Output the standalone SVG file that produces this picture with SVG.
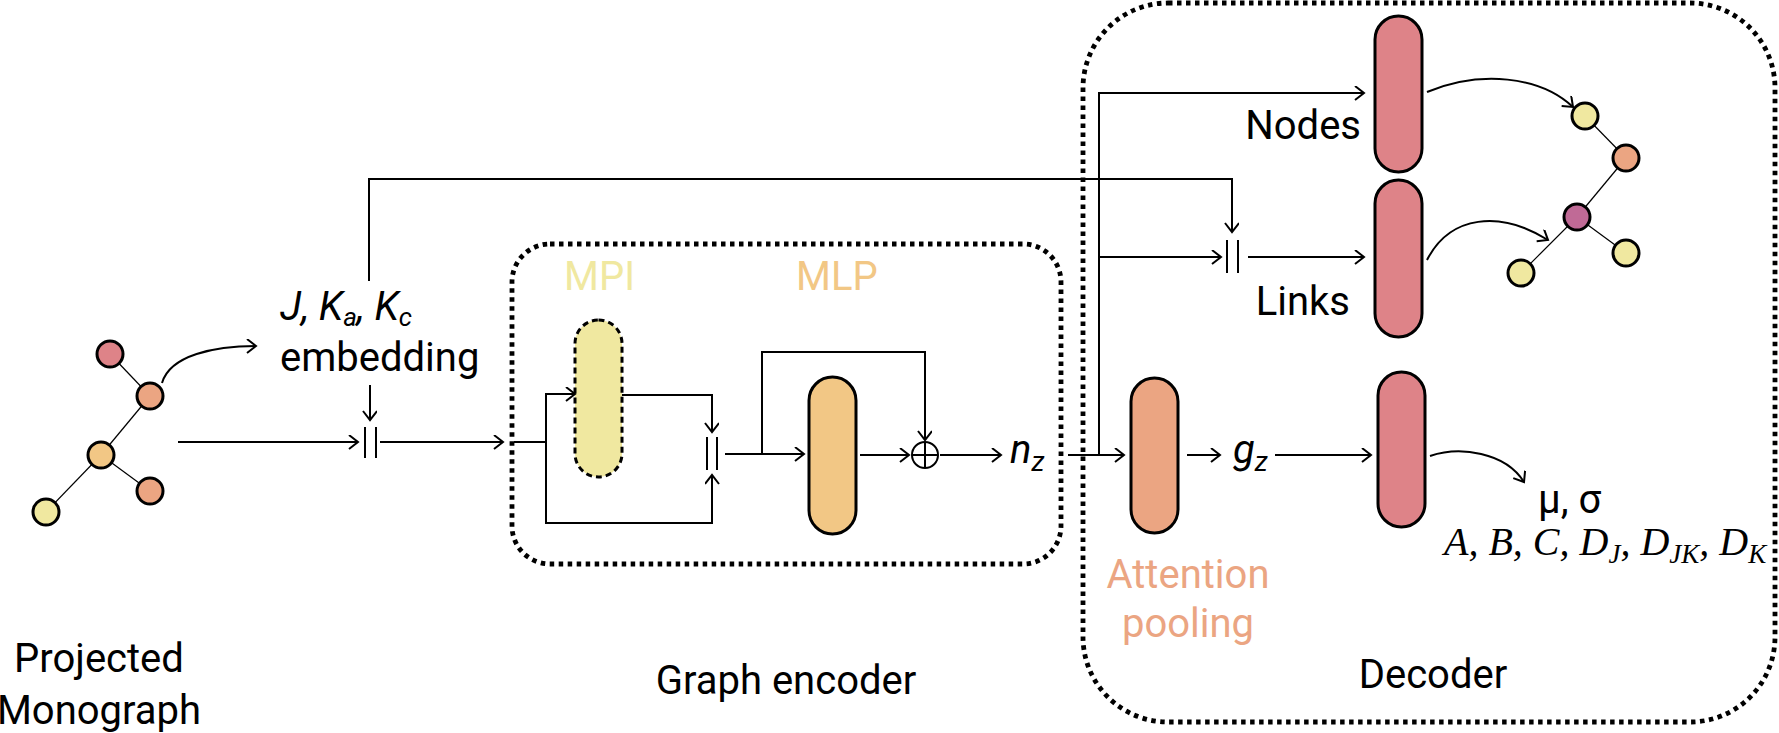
<svg xmlns="http://www.w3.org/2000/svg" width="1779" height="733" viewBox="0 0 1779 733">
<style>
text{font-family:Roboto,"Liberation Sans",sans-serif;font-size:40px;fill:#000}
.it{font-style:italic}
.tm{font-family:"Liberation Serif",serif;font-style:italic;font-size:40px}
.ln{fill:none;stroke:#000;stroke-width:2}
.ar{fill:none;stroke:#000;stroke-width:2;marker-end:url(#ah)}
.box{fill:none;stroke:#000;stroke-width:4.8;stroke-dasharray:4.5 4.5}
.pill{stroke:#000;stroke-width:3}
.nd{stroke:#000;stroke-width:3}
.ed{stroke:#000;stroke-width:1.2}
.red{fill:#DE8388}.sal{fill:#EBA582}.lor{fill:#F2C785}.yel{fill:#F0E8A0}.pur{fill:#C06A96}
</style>
<defs>
<marker id="ah" markerWidth="14" markerHeight="16" refX="10" refY="7" orient="auto" markerUnits="userSpaceOnUse">
<path d="M1,0 L10,7 L1,14" fill="none" stroke="#000" stroke-width="2"/>
</marker>
</defs>

<!-- containers -->
<g id="encoder-box">
<rect class="box" x="512" y="244" width="549" height="320" rx="38" ry="38"/>
<text x="786" y="694" text-anchor="middle">Graph encoder</text>
</g>
<g id="decoder-box">
<rect class="box" x="1083" y="3" width="692" height="719" rx="85" ry="85"/>
<text x="1433" y="688" text-anchor="middle">Decoder</text>
</g>

<!-- input graph -->
<g id="input-graph">
<line class="ed" x1="110" y1="354" x2="150" y2="396"/>
<line class="ed" x1="150" y1="396" x2="101" y2="455"/>
<line class="ed" x1="101" y1="455" x2="46" y2="512"/>
<line class="ed" x1="101" y1="455" x2="150" y2="491"/>
<circle class="nd red" cx="110" cy="354" r="13"/>
<circle class="nd sal" cx="150" cy="396" r="13"/>
<circle class="nd lor" cx="101" cy="455" r="13"/>
<circle class="nd sal" cx="150" cy="491" r="13"/>
<circle class="nd yel" cx="46" cy="512" r="13"/>
<text x="99" y="672" text-anchor="middle">Projected</text>
<text x="99" y="724" text-anchor="middle">Monograph</text>
</g>

<g id="embedding">
<text x="280" y="320" class="it">J, K<tspan font-size="26" dy="6">a</tspan><tspan dy="-6">, K</tspan><tspan font-size="26" dy="6">c</tspan></text>
<text x="280" y="371">embedding</text>
</g>

<g id="concat1">
<line class="ln" x1="365" y1="427" x2="365" y2="458"/>
<line class="ln" x1="376" y1="427" x2="376" y2="458"/>
</g>

<g id="mpi">
<text x="564" y="290" style="fill:#F0E8A0">MPI</text>
<rect class="yel" x="575" y="320" width="47" height="157" rx="23.5" ry="23.5" stroke="#000" stroke-width="3" stroke-dasharray="6 4"/>
</g>

<g id="concat2">
<line class="ln" x1="707" y1="437" x2="707" y2="470"/>
<line class="ln" x1="717" y1="437" x2="717" y2="470"/>
</g>

<g id="mlp">
<text x="796" y="290" style="fill:#F2C785">MLP</text>
<rect class="pill lor" x="809" y="377" width="47" height="157" rx="23.5" ry="23.5"/>
</g>

<g id="sum">
<circle cx="925" cy="455" r="13" fill="#fff" stroke="#000" stroke-width="2"/>
<line class="ln" x1="912" y1="455" x2="938" y2="455"/>
<line class="ln" x1="925" y1="442" x2="925" y2="468"/>
</g>

<g id="nz">
<text x="1010" y="463" class="it">n<tspan font-size="27" dy="8">z</tspan></text>
</g>

<g id="attention">
<rect class="pill sal" x="1131" y="378" width="47" height="155" rx="23.5" ry="23.5"/>
<text x="1188" y="588" text-anchor="middle" style="fill:#EBA582">Attention</text>
<text x="1188" y="637" text-anchor="middle" style="fill:#EBA582">pooling</text>
</g>

<g id="gz">
<text x="1233" y="463" class="it">g<tspan font-size="27" dy="8">z</tspan></text>
</g>

<g id="nodes-mlp">
<rect class="pill red" x="1375" y="16" width="47" height="156" rx="23.5" ry="23.5"/>
<text x="1361" y="139" text-anchor="end">Nodes</text>
</g>

<g id="concat3">
<line class="ln" x1="1227" y1="240" x2="1227" y2="273"/>
<line class="ln" x1="1238" y1="240" x2="1238" y2="273"/>
</g>

<g id="links-mlp">
<rect class="pill red" x="1375" y="180" width="47" height="157" rx="23.5" ry="23.5"/>
<text x="1350" y="315" text-anchor="end">Links</text>
</g>

<g id="param-mlp">
<rect class="pill red" x="1378" y="372" width="47" height="155" rx="23.5" ry="23.5"/>
</g>

<g id="output-graph">
<line class="ed" x1="1585" y1="116" x2="1626" y2="158"/>
<line class="ed" x1="1626" y1="158" x2="1577" y2="217"/>
<line class="ed" x1="1577" y1="217" x2="1626" y2="253"/>
<line class="ed" x1="1577" y1="217" x2="1521" y2="273"/>
<circle class="nd yel" cx="1585" cy="116" r="13"/>
<circle class="nd sal" cx="1626" cy="158" r="13"/>
<circle class="nd pur" cx="1577" cy="217" r="13"/>
<circle class="nd yel" cx="1626" cy="253" r="13"/>
<circle class="nd yel" cx="1521" cy="273" r="13"/>
</g>

<g id="outputs">
<text x="1538" y="513">μ, σ</text>
<text x="1444" y="555" class="tm">A, B, C, D<tspan dy="8" font-size="27">J</tspan><tspan dy="-8">, D</tspan><tspan dy="8" font-size="27">JK</tspan><tspan dy="-8">, D</tspan><tspan dy="8" font-size="27">K</tspan></text>
</g>

<g id="connectors">
<path class="ar" d="M162,383 C170,355 215,346 256,346"/>
<path class="ar" d="M178,442 H358"/>
<path class="ar" d="M370,385 V420"/>
<path class="ar" d="M380,442 H503"/>
<path class="ln" d="M514,442 H546"/>
<path class="ar" d="M546,442 V394 H575"/>
<path class="ar" d="M546,442 V523 H712 V475"/>
<path class="ar" d="M622,395 H712 V432"/>
<path class="ar" d="M725,454 H804"/>
<path class="ar" d="M762,454 V352 H925 V440"/>
<path class="ar" d="M860,455 H909"/>
<path class="ar" d="M940,455 H1001"/>
<path class="ar" d="M369,281 V179 H1232 V232"/>
<path class="ar" d="M1068,455 H1124"/>
<path class="ar" d="M1099,455 V93 H1364"/>
<path class="ar" d="M1099,257 H1221"/>
<path class="ar" d="M1248,257 H1364"/>
<path class="ar" d="M1187,455 H1220"/>
<path class="ar" d="M1275,455 H1371"/>
<path class="ar" d="M1427,92 C1480,70 1540,76 1573,107"/>
<path class="ar" d="M1427,260 C1450,215 1500,210 1548,240"/>
<path class="ar" d="M1430,456 C1460,446 1505,452 1524,482"/>
</g>
</svg>
